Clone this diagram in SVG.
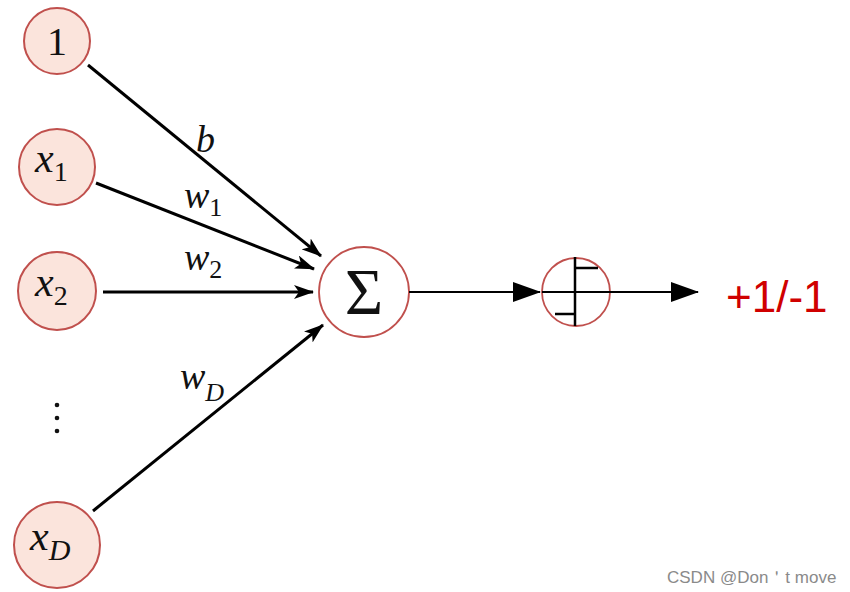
<svg xmlns="http://www.w3.org/2000/svg" width="850" height="592" viewBox="0 0 850 592">
<style>
.in{fill:#fbe4dc;stroke:#c0504d;stroke-width:2}
.op{fill:#ffffff;stroke:#c0504d;stroke-width:1.8}
.m{font-family:"Liberation Serif","DejaVu Serif",serif;font-style:italic;fill:#111}
.n{font-family:"Liberation Serif","DejaVu Serif",serif;fill:#111}
.c{stroke:#000;stroke-width:3;fill:none}
.c2{stroke:#000;stroke-width:2;fill:none}
</style>
<defs>
<marker id="ah" viewBox="0 0 20 14" refX="19" refY="7" markerWidth="20" markerHeight="14" markerUnits="userSpaceOnUse" orient="auto">
<path d="M0,0 L20,7 L0,14 L5,7 Z" fill="#000"/>
</marker>
<marker id="bh" viewBox="0 0 28 20" refX="27" refY="10" markerWidth="28" markerHeight="20" markerUnits="userSpaceOnUse" orient="auto">
<path d="M0,0 L28,10 L0,20 Z" fill="#000"/>
</marker>
</defs>
<rect width="850" height="592" fill="#fff"/>
<g id="node-1">
<circle class="in" cx="57" cy="41" r="33"/>
<text class="n" x="57" y="55" font-size="40" text-anchor="middle">1</text>
</g>
<g id="node-x1">
<circle class="in" cx="57" cy="167" r="38"/>
<text class="m" x="35" y="172" font-size="42">x<tspan font-style="normal" font-size="28" dy="9">1</tspan></text>
</g>
<g id="node-x2">
<circle class="in" cx="57" cy="291" r="39"/>
<text class="m" x="35" y="296" font-size="42">x<tspan font-style="normal" font-size="28" dy="9">2</tspan></text>
</g>
<g id="dots">
<circle cx="57" cy="405" r="2.3" fill="#111"/>
<circle cx="57" cy="418" r="2.3" fill="#111"/>
<circle cx="57" cy="431" r="2.3" fill="#111"/>
</g>
<g id="node-xD">
<circle class="in" cx="57" cy="545" r="43"/>
<text class="m" x="30" y="550" font-size="42">x<tspan font-size="30" dy="10">D</tspan></text>
</g>
<g id="node-sum">
<circle class="op" cx="364" cy="292" r="45"/>
<text class="n" x="364" y="314" font-size="66" text-anchor="middle">Σ</text>
</g>
<g id="node-step">
<circle class="op" cx="576" cy="292" r="34"/>
<path d="M555,314 H575 V257 M575,326 V314 M575,268 H598" stroke="#000" stroke-width="2.5" fill="none"/>
</g>
<g id="connectors">
<line class="c" x1="88" y1="65" x2="321" y2="256" marker-end="url(#ah)"/>
<line class="c" x1="96" y1="183" x2="314" y2="269" marker-end="url(#ah)"/>
<line class="c" x1="103" y1="292" x2="313" y2="292" marker-end="url(#ah)"/>
<line class="c" x1="93" y1="511" x2="323" y2="325" marker-end="url(#ah)"/>
<line class="c2" x1="409" y1="292" x2="540" y2="292" marker-end="url(#bh)"/>
<line class="c2" x1="542" y1="292" x2="698" y2="292" marker-end="url(#bh)"/>
</g>
<g id="labels">
<text class="m" x="196" y="152" font-size="38">b</text>
<text class="m" x="184" y="208" font-size="38">w<tspan font-style="normal" font-size="26" dy="8">1</tspan></text>
<text class="m" x="184" y="270" font-size="38">w<tspan font-style="normal" font-size="26" dy="8">2</tspan></text>
<text class="m" x="180" y="389" font-size="38">w<tspan font-size="26" dy="12">D</tspan></text>
</g>
<g id="output">
<text x="726" y="312" font-family="Liberation Sans, Arial, sans-serif" font-size="44" fill="#d00000">+1/-1</text>
</g>
<text x="667" y="583" font-family="Liberation Sans, Arial, sans-serif" font-size="17" fill="#8a8a8a">CSDN @Don＇t move</text>
</svg>
